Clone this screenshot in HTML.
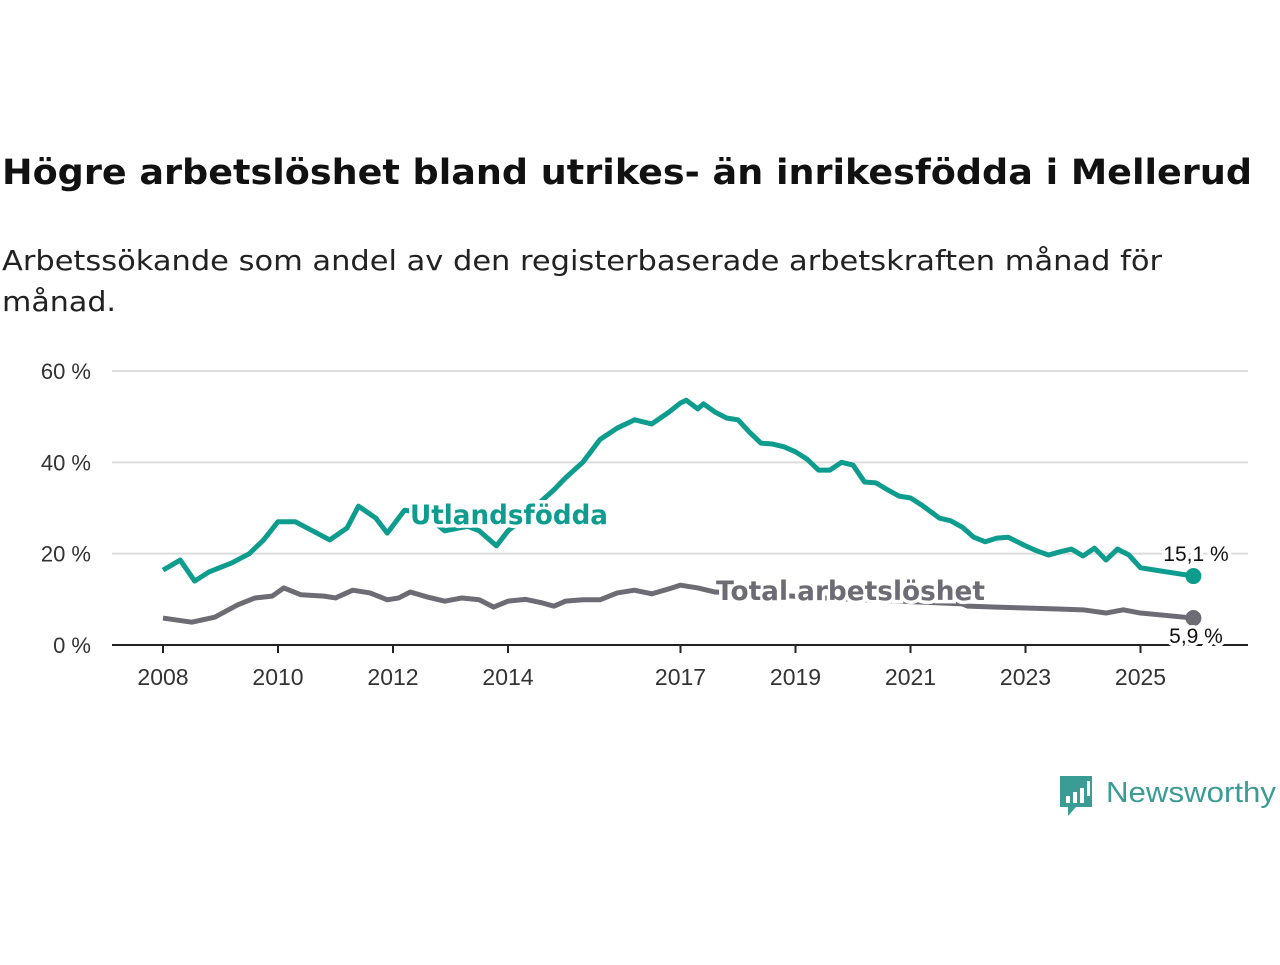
<!DOCTYPE html>
<html><head><meta charset="utf-8"><style>
body{margin:0;background:#fff;width:1280px;height:960px;overflow:hidden;font-family:"Liberation Sans",sans-serif}
</style></head><body>
<svg id="chart" width="1280" height="960" xmlns="http://www.w3.org/2000/svg" font-family="Liberation Sans, sans-serif">
<text x="2" y="184" font-family="DejaVu Sans, sans-serif" font-size="35" font-weight="bold" fill="#111" textLength="1250" lengthAdjust="spacingAndGlyphs">Högre arbetslöshet bland utrikes- än inrikesfödda i Mellerud</text>
<text x="2" y="270" font-family="DejaVu Sans, sans-serif" font-size="28" fill="#222" textLength="1160" lengthAdjust="spacingAndGlyphs">Arbetssökande som andel av den registerbaserade arbetskraften månad för</text>
<text x="2" y="311" font-family="DejaVu Sans, sans-serif" font-size="28" fill="#222" textLength="114" lengthAdjust="spacingAndGlyphs">månad.</text>
<g id="grid"></g><g id="axes"></g><g id="series"></g><g id="labels"></g>
<g>
<path d="M1060 776h32v31h-16l-8 9v-9h-8z" fill="#3a9c94"/>
<rect x="1066" y="796" width="4" height="7" fill="#fff"/><rect x="1073" y="792" width="4" height="11" fill="#fff"/><rect x="1080" y="788" width="4" height="15" fill="#fff"/><rect x="1087" y="781" width="3" height="15" fill="#fff"/>
<text x="1106" y="802" font-size="29" fill="#3a9c94" textLength="170" lengthAdjust="spacingAndGlyphs">Newsworthy</text>
</g>
</svg>
<script>
const yTicks=[0,20,40,60];
const xTickYears=[2008,2010,2012,2014,2017,2019,2021,2023,2025];
const utlDates=[2008.0,2008.3,2008.55,2008.8,2009.2,2009.5,2009.75,2010.0,2010.3,2010.6,2010.9,2011.2,2011.4,2011.7,2011.9,2012.2,2012.5,2012.7,2012.9,2013.3,2013.5,2013.8,2014.0,2014.3,2014.5,2014.8,2015.0,2015.3,2015.6,2015.9,2016.2,2016.5,2016.8,2017.0,2017.1,2017.3,2017.4,2017.6,2017.8,2018.0,2018.2,2018.4,2018.6,2018.8,2019.0,2019.2,2019.4,2019.6,2019.8,2020.0,2020.2,2020.4,2020.6,2020.8,2021.0,2021.2,2021.5,2021.7,2021.9,2022.1,2022.3,2022.5,2022.7,2023.0,2023.2,2023.4,2023.6,2023.8,2024.0,2024.2,2024.4,2024.6,2024.8,2025.0,2025.92];
const utlValues=[16.4,18.6,14,16,18,20,23,27,27,25,23,25.6,30.4,27.8,24.5,29.5,29,27,25,26,25,21.7,25,28,30.6,34,36.6,40,45,47.5,49.3,48.4,51,53,53.6,51.7,52.8,51,49.7,49.3,46.6,44.2,44,43.4,42.3,40.7,38.3,38.3,40,39.4,35.7,35.5,34,32.6,32.2,30.6,27.8,27.2,25.8,23.6,22.6,23.4,23.6,21.7,20.6,19.7,20.4,21,19.5,21.2,18.6,21,19.7,16.9,15.1];
const totDates=[2008.0,2008.5,2008.9,2009.3,2009.6,2009.9,2010.1,2010.4,2010.8,2011.0,2011.3,2011.6,2011.9,2012.1,2012.3,2012.6,2012.9,2013.2,2013.5,2013.75,2014.0,2014.3,2014.6,2014.8,2015.0,2015.3,2015.6,2015.9,2016.2,2016.5,2016.8,2017.0,2017.3,2017.6,2018.2,2018.8,2019.5,2020.2,2021.0,2021.9,2022.0,2022.5,2023.0,2023.5,2024.0,2024.4,2024.7,2025.0,2025.92];
const totValues=[5.9,5,6.1,8.8,10.3,10.7,12.5,11,10.7,10.3,12,11.4,9.9,10.3,11.6,10.5,9.6,10.3,9.9,8.3,9.6,10,9.2,8.5,9.6,9.9,9.9,11.4,12,11.2,12.3,13.1,12.5,11.6,11.2,10.8,10.3,9.9,9.5,9,8.5,8.3,8.1,7.9,7.7,7,7.7,7,5.9];
const NS="http://www.w3.org/2000/svg";
const X=t=>163+(t-2008)*57.5;
const Y=v=>645-v*4.567;
function mk(tag,attrs,parent){const e=document.createElementNS(NS,tag);for(const k in attrs)e.setAttribute(k,attrs[k]);document.getElementById(parent).appendChild(e);return e;}
yTicks.forEach(v=>{
  if(v>0){const g=mk('line',{x1:112,x2:1248,y1:Y(v),y2:Y(v),stroke:'#dcdcdc','stroke-width':2},'grid');
  
  }
  const t=mk('text',{x:91,y:Y(v)+8,'font-size':22,fill:'#333','text-anchor':'end'},'axes');t.textContent=v+' %';
  
  
});
const ax=mk('line',{x1:112,x2:1248,y1:645,y2:645,stroke:'#222','stroke-width':2},'axes');


xTickYears.forEach(yr=>{
  const tk=mk('line',{x1:X(yr),x2:X(yr),y1:645,y2:653,stroke:'#222','stroke-width':2},'axes');
  
  
  const t=mk('text',{x:X(yr),y:685,'font-size':23,fill:'#333','text-anchor':'middle'},'axes');t.textContent=yr;
  
  
});
function line(d,v,col,name){
  const p=mk('polyline',{points:d.map((t,i)=>X(t)+','+Y(v[i])).join(' '),fill:'none',stroke:col,'stroke-width':5,'stroke-linejoin':'round'},'series');
  
  
  const c=mk('circle',{cx:X(d[d.length-1]),cy:Y(v[v.length-1]),r:8,fill:col},'series');
  
  
}
line(totDates,totValues,'#6d6c74','total-line');
line(utlDates,utlValues,'#0d9c8e','utlandsfodda-line');
function lbl(x,y,txt,col,size,weight,name,anchor,len){
  const a={x:x,y:y,'font-size':size,'font-weight':weight,fill:col,stroke:'#fff','stroke-width':7,'paint-order':'stroke','text-anchor':anchor||'start'};
  if(len){a.textLength=len;a.lengthAdjust='spacingAndGlyphs';a['font-family']='DejaVu Sans, sans-serif';}
  const t=mk('text',a,'labels');t.textContent=txt;
  
  
}
lbl(410,524,'Utlandsfödda','#0d9c8e',27,'bold','utlandsfodda-label','start',198);
lbl(716,600,'Total arbetslöshet','#6d6c74',27,'bold','total-label','start',269);
lbl(1196,561,'15,1 %','#111',21,'normal','utlandsfodda-end-value','middle');
lbl(1196,643,'5,9 %','#111',21,'normal','total-end-value','middle');
</script>
</body></html>
